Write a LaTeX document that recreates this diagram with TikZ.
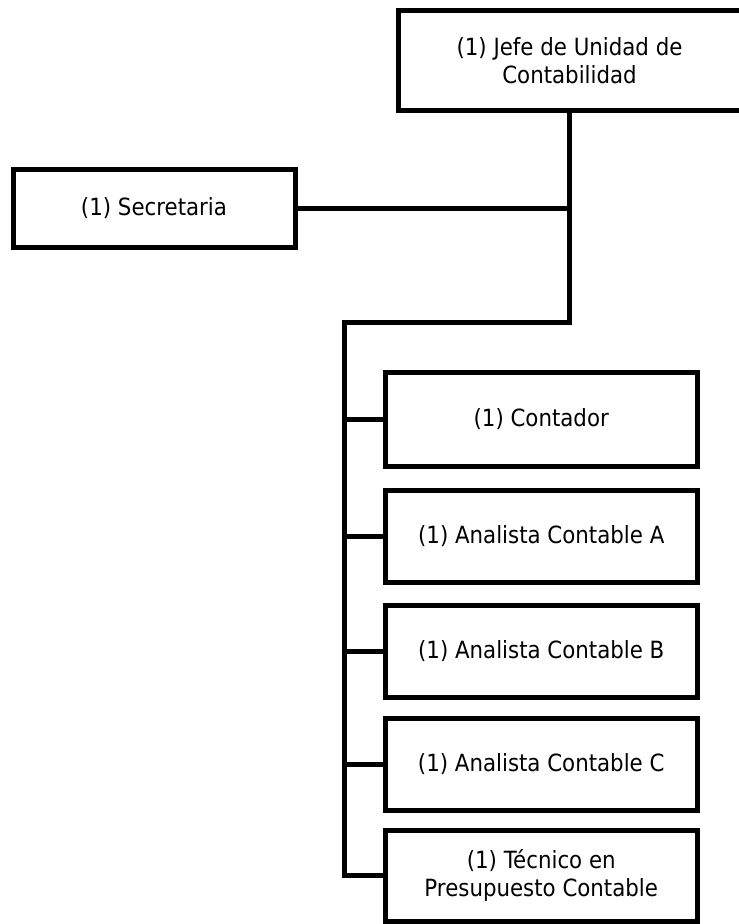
\documentclass[tikz,border=0pt]{standalone}
\usepackage{fontspec}
\setmainfont{DejaVu Sans}[FakeStretch=0.9]
\begin{document}
\begin{tikzpicture}[x=1pt,y=-1pt,
  post/.style={draw=black, line width=5pt, rectangle, inner sep=0pt,
    align=center, font=\fontsize{23.7}{28}\selectfont},
  link/.style={draw=black, line width=5pt}]
\useasboundingbox[fill=white] (0,0) rectangle (739,924);

% head of the unit and its secretary
\node[post, minimum width=343pt, minimum height=100.5pt] (jefe) at (569.5,60.25)
  {(1) Jefe de Unidad de\\Contabilidad};
\node[post, minimum width=282pt, minimum height=78pt] (secre) at (154,208.5)
  {(1) Secretaria};

% staff column
\node[post, minimum width=312.5pt, minimum height=94pt] (cont) at (541.25,419) {(1) Contador};
\node[post, minimum width=312.5pt, minimum height=92pt] (ana) at (541.25,536.5) {(1) Analista Contable A};
\node[post, minimum width=312.5pt, minimum height=92pt] (anb) at (541.25,651) {(1) Analista Contable B};
\node[post, minimum width=312.5pt, minimum height=92.5pt] (anc) at (541.25,764.25) {(1) Analista Contable C};
\node[post, minimum width=312.5pt, minimum height=90.5pt] (tec) at (541.25,875.75)
  {(1) Técnico en\\Presupuesto Contable};

% connectors
\coordinate (hub) at (569.5,322.5);
\coordinate (spine) at (344.5,322.5);
\draw[link] (jefe.south) -- (hub) -- (spine) -- (spine |- tec.west) -- (tec.west);
\draw[link] (secre.east) -- (secre.east -| hub);
\foreach \n in {cont,ana,anb,anc}
  \draw[link] (spine |- \n.west) -- (\n.west);
\end{tikzpicture}
\end{document}
